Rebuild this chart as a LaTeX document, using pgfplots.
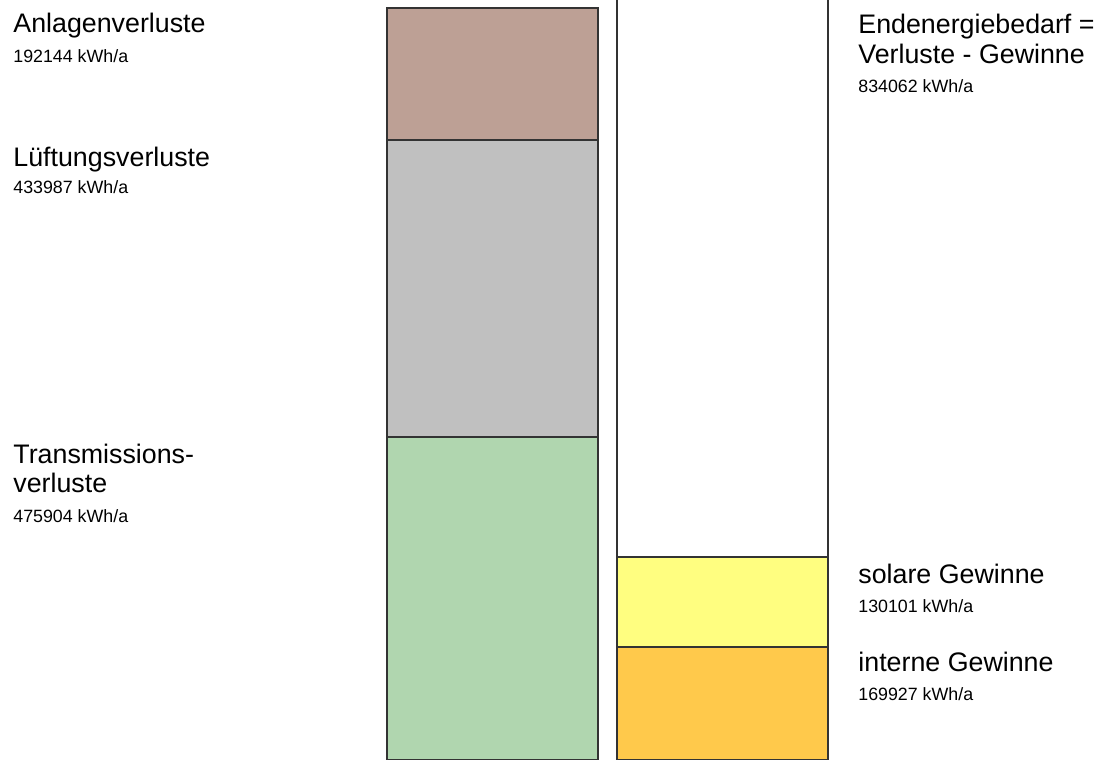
\documentclass[border=0pt]{standalone}
\usepackage{pgfplots}
\pgfplotsset{compat=1.18}
\usepackage{fontspec}
\setmainfont{Liberation Sans}

\definecolor{anlagen}{HTML}{BDA095}
\definecolor{lueftung}{HTML}{C0C0C0}
\definecolor{transm}{HTML}{B0D6AF}
\definecolor{solar}{HTML}{FFFE80}
\definecolor{intern}{HTML}{FFC94B}
\definecolor{rand}{HTML}{333333}

% energy balance in kWh/a
% left column: losses, right column: gains and final energy demand
\pgfplotsset{
  bilanz/.style={
    width=549.5pt, height=380pt, scale only axis,
    axis lines=none,
    xmin=0, xmax=1099,
    ymin=4379, ymax=1113712,
    ybar stacked, bar width=105.5pt,
    clip mode=individual,
    every axis plot/.append style={draw=rand, line width=1pt},
  },
}
\newcommand{\gross}[3]{\node[anchor=base west, inner sep=0pt, font=\fontsize{13.4pt}{15pt}\selectfont] at (rel axis cs:{#1/1099},{1-#2/760}) {#3};}
\newcommand{\klein}[3]{\node[anchor=base west, inner sep=0pt, font=\fontsize{8.9pt}{10pt}\selectfont] at (rel axis cs:{#1/1099},{1-#2/760}) {#3};}

\begin{document}
\begin{tikzpicture}
\begin{axis}[bilanz, name=verluste]
  \addplot[fill=transm]   coordinates {(492,475904)};
  \addplot[fill=lueftung] coordinates {(492,433987)};
  \addplot[fill=anlagen]  coordinates {(492,192144)};

  \gross{13}{33}{Anlagenverluste}
  \klein{13}{63}{192144 kWh/a}
  \gross{13}{167}{Lüftungsverluste}
  \klein{13}{194}{433987 kWh/a}
  \gross{13}{464}{Transmissions-}
  \gross{13}{493}{verluste}
  \klein{13}{523}{475904 kWh/a}
\end{axis}
\begin{axis}[bilanz]
  \addplot[fill=intern] coordinates {(722,169927)};
  \addplot[fill=solar]  coordinates {(722,130101)};
  \addplot[fill=white]  coordinates {(722,834062)};

  \gross{858}{34}{Endenergiebedarf =}
  \gross{858}{64}{Verluste - Gewinne}
  \klein{858}{93}{834062 kWh/a}
  \gross{858}{584}{solare Gewinne}
  \klein{858}{613}{130101 kWh/a}
  \gross{858}{672}{interne Gewinne}
  \klein{858}{701}{169927 kWh/a}
\end{axis}
\pgfresetboundingbox
\path[use as bounding box] (verluste.south west) rectangle (verluste.north east);
\end{tikzpicture}
\end{document}
